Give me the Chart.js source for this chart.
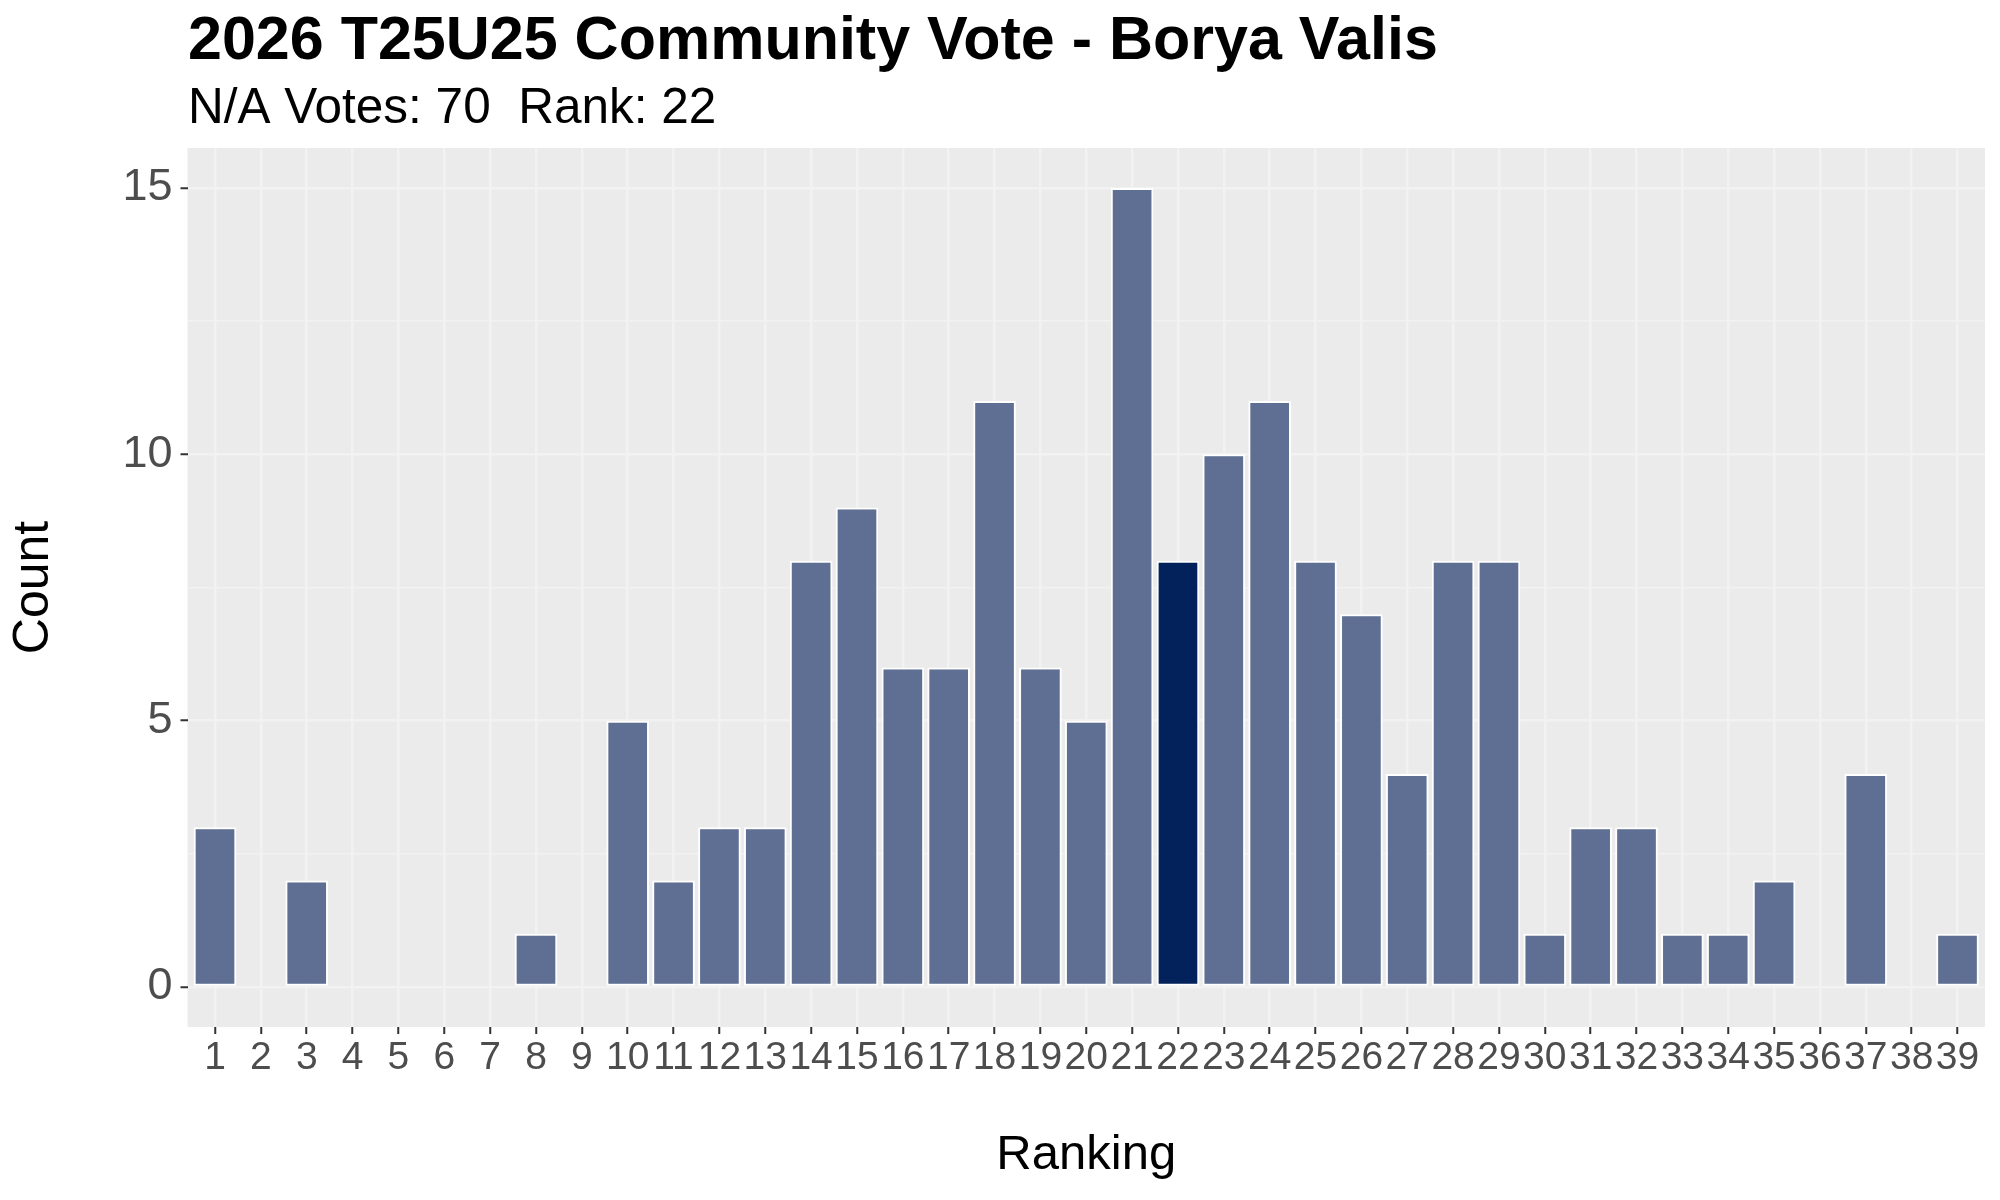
<!DOCTYPE html>
<html><head><meta charset="utf-8">
<script src="https://cdn.jsdelivr.net/npm/chart.js@4.4.1/dist/chart.umd.min.js"></script>
<style>html,body{margin:0;padding:0;background:#fff}#wrap{width:2000px;height:1200px}</style>
</head><body><div id="wrap"><canvas id="c" width="2000" height="1200"></canvas></div>
<script>
// ---- data ----
const titleText = '2026 T25U25 Community Vote - Borya Valis';
const subtitleText = 'N/A Votes: 70  Rank: 22';
const xAxisTitle = 'Ranking';
const yAxisTitle = 'Count';
const rankings = [1,2,3,4,5,6,7,8,9,10,11,12,13,14,15,16,17,18,19,20,21,22,23,24,25,26,27,28,29,30,31,32,33,34,35,36,37,38,39];
const counts   = [3,0,2,0,0,0,0,1,0,5,2,3,3,8,9,6,6,11,6,5,15,8,10,11,8,7,4,8,8,1,3,3,1,1,2,0,4,0,1];
const highlightRank = 22;
const yMajorTicks = [0,5,10,15];
const yMinorTicks = [2.5,7.5,12.5];

// ---- styling ----
const FONT = '"Liberation Sans", Arial, Helvetica, sans-serif';
const PANEL_BG = '#ebebeb';
const GRID = '#f2f2f2';
const BAR = '#5e6f93';
const BAR_HI = '#03215b';
const AREA = {left: 187.5, right: 1985, top: 148, bottom: 1027};

const panelPlugin = {
  id: 'panel',
  beforeDraw(chart) {
    const {ctx, chartArea: a} = chart;
    ctx.save();
    ctx.fillStyle = '#ffffff';
    ctx.fillRect(0, 0, chart.width, chart.height);
    ctx.fillStyle = PANEL_BG;
    ctx.fillRect(a.left, a.top, a.right - a.left, a.bottom - a.top);
    ctx.restore();
  },
  afterDraw(chart) {
    const ctx = chart.ctx;
    ctx.save();
    ctx.fillStyle = '#000';
    ctx.textBaseline = 'alphabetic';
    ctx.textAlign = 'left';
    ctx.font = 'bold 61px ' + FONT;
    ctx.fillText(titleText, 188, 59);
    ctx.font = '49.5px ' + FONT;
    ctx.fillText(subtitleText, 188, 123);
    ctx.restore();
  }
};

const data = rankings.map((r, i) => ({x: r, y: counts[i] > 0 ? counts[i] : null}));

new Chart(document.getElementById('c'), {
  type: 'bar',
  data: {
    datasets: [{
      data: data,
      backgroundColor: rankings.map(r => r === highlightRank ? BAR_HI : BAR),
      borderColor: '#ffffff',
      borderWidth: 2,
      borderSkipped: false,
      barPercentage: 0.93,
      categoryPercentage: 1.0
    }]
  },
  options: {
    responsive: false,
    devicePixelRatio: 1,
    animation: false,
    layout: {padding: {top: AREA.top, right: 2000 - AREA.right, bottom: 0, left: 0}},
    plugins: {legend: {display: false}, tooltip: {enabled: false}, title: {display: false}},
    scales: {
      x: {
        type: 'linear',
        offset: false,
        min: 0.4,
        max: 39.6,
        afterFit(scale) { scale.height = 1200 - AREA.bottom; },
        afterBuildTicks(scale) { scale.ticks = rankings.map(v => ({value: v})); },
        grid: {color: GRID, lineWidth: 2.5, offset: false, drawTicks: true, tickLength: 7, tickColor: '#333333', tickWidth: 2},
        border: {display: false},
        ticks: {
          autoSkip: false, maxRotation: 0, minRotation: 0, padding: 1,
          color: '#4d4d4d', font: {family: FONT, size: 39},
          callback: (v) => String(v)
        },
        title: {display: true, text: xAxisTitle, color: '#000', font: {family: FONT, size: 49}, padding: {top: 0, bottom: 15}}
      },
      y: {
        type: 'linear',
        min: -0.75,
        max: 15.75,
        afterFit(scale) { scale.width = AREA.left; },
        afterBuildTicks(scale) {
          scale.ticks = yMajorTicks.concat(yMinorTicks).sort((a, b) => a - b).map(v => ({value: v}));
        },
        grid: {
          color: GRID,
          lineWidth: (c) => yMajorTicks.includes(c.tick.value) ? 2.5 : 1.5,
          tickLength: 7,
          tickWidth: 2,
          tickColor: (c) => yMajorTicks.includes(c.tick.value) ? '#333333' : 'rgba(0,0,0,0)'
        },
        border: {display: false},
        ticks: {
          padding: 8, color: '#4d4d4d', font: {family: FONT, size: 45},
          callback: (v) => yMajorTicks.includes(v) ? String(v) : ''
        },
        title: {display: true, text: yAxisTitle, color: '#000', font: {family: FONT, size: 50}, padding: {top: 4, bottom: 0}}
      }
    }
  },
  plugins: [panelPlugin]
});
</script></body></html>
